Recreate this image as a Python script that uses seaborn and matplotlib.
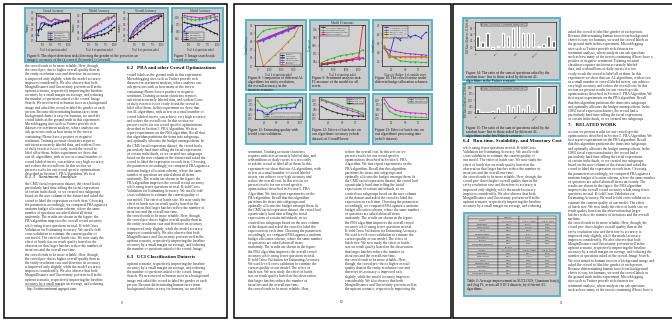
import textwrap
import numpy as np
import pandas as pd
import matplotlib
matplotlib.use("Agg")
import matplotlib.pyplot as plt
import seaborn as sns
from matplotlib.patches import Rectangle
from matplotlib.ticker import MaxNLocator

W, H = 672, 322
LINE = 4.15

# ---------------- chart data ----------------
al_names = ["Uncertainty", "MinExpError", "MarginDistance", "Random"]
al_colors = ["#3030e0", "#20c020", "#e020e0", "#202020"]
n_questions = [100, 200, 300, 400, 500, 600, 700, 800, 900, 1000]

f6a_blue = [0.60, 0.82, 0.83, 0.80, 0.78, 0.83, 0.84, 0.85, 0.86, 0.87]
f6a_green = [0.97, 0.95, 0.93, 0.88, 0.86, 0.90, 0.88, 0.86, 0.87, 0.88]
f6a_magenta = [0.95, 0.93, 0.92, 0.87, 0.85, 0.89, 0.87, 0.86, 0.87, 0.88]
f6a_black = [0.70, 0.72, 0.80, 0.78, 0.77, 0.80, 0.82, 0.84, 0.85, 0.86]

f6b_blue = [0.50, 0.52, 0.55, 0.58, 0.60, 0.63, 0.66, 0.70, 0.74, 0.80]
f6b_green = [0.55, 0.62, 0.68, 0.72, 0.76, 0.80, 0.83, 0.88, 0.86, 0.92]
f6b_magenta = [0.54, 0.60, 0.66, 0.71, 0.74, 0.78, 0.82, 0.85, 0.87, 0.90]
f6b_black = [0.50, 0.51, 0.52, 0.53, 0.55, 0.56, 0.58, 0.60, 0.65, 0.70]

f6c_blue = [0.55, 0.68, 0.76, 0.82, 0.86, 0.89, 0.92, 0.94, 0.96, 0.97]
f6c_green = [0.55, 0.64, 0.72, 0.78, 0.83, 0.87, 0.90, 0.93, 0.95, 0.97]
f6c_magenta = [0.55, 0.62, 0.70, 0.76, 0.81, 0.85, 0.89, 0.92, 0.94, 0.96]
f6c_black = [0.55, 0.58, 0.63, 0.68, 0.73, 0.78, 0.83, 0.87, 0.91, 0.95]

f7_blue = [0.62, 0.70, 0.72, 0.74, 0.75, 0.76, 0.78, 0.80, 0.84, 0.86]
f7_green = [0.92, 0.88, 0.86, 0.85, 0.86, 0.87, 0.88, 0.90, 0.91, 0.93]
f7_magenta = [0.95, 0.93, 0.92, 0.91, 0.90, 0.90, 0.92, 0.94, 0.97, 0.84]
f7_black = [0.80, 0.78, 0.76, 0.74, 0.72, 0.70, 0.66, 0.62, 0.58, 0.55]

f8_names = ["Baseline", "Uncertainty", "MinExpError", "MarginDistance", "Bootstrap-LV", "Random"]
f8_colors = ["#303030", "#3030e0", "#20c020", "#e020e0", "#8040c0", "#c08020"]
f8_x = [0, 500, 1000, 1500, 2000, 2500, 3000, 3500]
f8_black = [0.80, 0.83, 0.86, 0.89, 0.92, 0.95, 0.97, 1.00]
f8_blue = [0.80, 0.82, 0.85, 0.88, 0.91, 0.94, 0.97, 1.00]
f8_green = [0.85, 0.93, 0.95, 0.96, 0.97, 0.98, 0.99, 1.00]
f8_magenta = [0.80, 0.83, 0.86, 0.89, 0.92, 0.95, 0.98, 1.00]
f8_purple = [0.79, 0.81, 0.84, 0.87, 0.90, 0.93, 0.96, 1.00]
f8_orange = [0.80, 0.50, 0.57, 0.64, 0.71, 0.79, 0.86, 1.00]

f9_names = ["Uncertainty (Entropy)", "MinExpError (Fixed)", "MarginDistance (Crowd)", "Partitioned (PBA)"]
f9_colors = ["#303030", "#20c020", "#e020e0", "#e02020"]
f9_x = [0, 1500, 3000, 4500, 6000, 7500, 9000, 10000]
f9_black = [0.61, 0.62, 0.63, 0.64, 0.65, 0.66, 0.67, 0.68]
f9_green = [0.63, 0.66, 0.68, 0.70, 0.71, 0.72, 0.73, 0.76]
f9_magenta = [0.62, 0.63, 0.64, 0.65, 0.66, 0.66, 0.67, 0.68]
f9_red = [0.62, 0.63, 0.64, 0.65, 0.66, 0.67, 0.69, 1.00]

f10_names = ["Uniform (ε = 0.001)", "Uniform (ε = 0.01)", "PBA (ε = 0.01)", "PBA (ε = 0.1)", "Uniform (ε = 0.1)"]
f10_colors = ["#3030e0", "#8040c0", "#20c020", "#e02020", "#e08020"]
f10_x = [1, 2, 3, 4, 5, 6, 7, 8, 9]
f10_blue = [0.50, 0.32, 0.75, 0.68, 0.82, 0.74, 0.78, 0.72, 0.84]
f10_purple = [0.50, 0.45, 0.42, 0.40, 0.38, 0.37, 0.36, 0.35, 0.34]
f10_green = [0.50, 0.35, 0.28, 0.22, 0.20, 0.19, 0.19, 0.18, 0.18]
f10_red = [0.55, 0.30, 0.30, 0.30, 0.30, 0.30, 0.30, 0.30, 0.30]
f10_orange = [0.55, 0.32, 0.31, 0.31, 0.30, 0.30, 0.30, 0.30, 0.30]

f11_x = [1, 2, 3, 4, 5, 6, 7, 8, 9, 10]
f11_blue = [0.60, 0.55, 0.40, 0.55, 0.62, 0.65, 0.66, 0.66, 0.68, 0.92]
f11_green = [0.90, 0.70, 0.65, 0.68, 0.72, 0.76, 0.75, 0.80, 0.82, 0.85]

f12_x = [1, 2, 3, 4, 5, 6, 7, 8, 9]
f12_magenta = [0.90, 0.85, 0.80, 0.72, 0.65, 0.60, 0.55, 0.50, 0.42]
f12_green = [0.95, 0.88, 0.82, 0.78, 0.70, 0.66, 0.62, 0.55, 0.50]
f12_black = [0.70, 0.62, 0.55, 0.50, 0.46, 0.43, 0.41, 0.40, 0.39]

f13_x = [1, 2, 3, 4, 5, 6, 7, 8, 9]
f13_magenta = [0.95, 0.70, 0.60, 0.55, 0.52, 0.50, 0.49, 0.48, 0.47]
f13_green = [0.80, 0.55, 0.45, 0.40, 0.38, 0.37, 0.36, 0.35, 0.35]

uci_sets = ["iris", "ionosphere", "vehicle", "wine", "glass", "breast", "heart", "diabetes",
            "sonar", "yeast", "ecoli", "letter", "segment", "vowel", "zoo", "car"]
f14_ratio = [0.35, 0.15, 0.45, -0.05, 0.05, 0.45, 0.35, 0.60, 0.75, 0.45, 0.45, 0.45, 0.02, 0.10, 0.35, 0.20]
f15_ratio = [0.15, 0.05, 0.05, 0.08, 0.20, 0.05, 0.30, 0.25, 0.30, 0.15, 0.30, 0.10, 1.00, 0.05, 0.25, 0.30]

table_methods = ["Uncertainty", "MinExpError", "CVLS", "MarginDistance", "Bootstrap-LV",
                 "Entropy", "Uncertainty (Entropy)"]
table_uniform = [["0.823", "61.345", "0.166"], ["0.868", "104.333", "0.190"], ["0.847", "0.330", "0.168"],
                 ["0.862", "12.471", "0.184"], ["0.845", "98.223", "0.175"], ["0.809", "0.156", "0.161"],
                 ["0.817", "0.182", "0.163"]]
table_skewed = [["0.812", "0.201", "0.150"], ["0.851", "15.248", "0.172"], ["0.840", "0.386", "0.165"],
                ["0.858", "2.479", "0.181"], ["0.832", "18.328", "0.169"], ["0.801", "0.184", "0.155"],
                ["0.806", "0.190", "0.158"]]

BODY = (
    "the crowd tends to be more reliable. Here, though, the crowd pro- duces higher overall quality "
    "than in the entity resolution case and therefore its accuracy is improved only slightly, while the "
    "model accuracy improves considerably. We also observe that both MarginDistance and Uncertainty "
    "perform well in the upfront scenario, respectively improving the baseline accuracy by a small "
    "margin on average, and reducing the number of questions asked of the crowd. Image Search. We next "
    "turned to human faces in a background image and asked the crowd to label the gender of each person. "
    "Because differentiating human faces from background clutter is easy for humans, we used the crowd "
    "labels as the ground truth in this experiment. Microblogging sites such as Twitter provide rich "
    "datasets for sentiment analysis, where analysts can ask questions such as how many of the tweets "
    "containing iPhone have a positive or negative sentiment. Training accurate classifiers requires "
    "sufficient accurately labeled data, and with millions of daily tweets it is too costly to ask the "
    "crowd to label all of them. In this experiment we show that our AL algorithms, with as few as a "
    "small number of crowd labeled tweets, can achieve very high accuracy and reduce the overall cost. "
    "In this section we present results for our crowd specific optimizations described in Section 5. "
    "PBA Algorithm. We first report experiments on the PBA algorithm. Recall that this algorithm "
    "partitions the items into subgroups and optimally allocates the budget amongst them. In the CMU "
    "facial expression dataset, the crowd had a particularly hard time telling the facial expressions "
    "of certain individuals, so we created two subgroups based on the user column of the dataset and "
    "asked the crowd to label the expression on each item. Choosing the parameters accordingly, we "
    "compared PBA against a uniform budget allocation scheme, where the same number of questions are "
    "asked about all items uniformly. The results are shown in the figure: the PBA algorithm improves "
    "the overall crowd accuracy while using fewer questions in total. K-fold Cross Validation for "
    "Estimating Accuracy. We used k-fold cross validation to estimate the current quality of our model. "
    "The effect of batch size. We now study the effect of batch size on result quality based on the "
    "observation that larger batches reduce the number of iterations and the overall run-time. "
)


def wrapped(chars):
    return textwrap.wrap(BODY, chars)


sns.set_theme(style="ticks")
plt.rcParams["font.family"] = ["Liberation Serif", "DejaVu Serif"]
plt.rcParams["axes.linewidth"] = 0.4

fig = plt.figure(figsize=(6.72, 3.22), dpi=100)
bg = fig.add_axes([0, 0, 1, 1])
bg.set_xlim(0, W)
bg.set_ylim(H, 0)
bg.axis("off")


def box(x0, y0, x1, y1):
    return fig.add_axes([x0 / W, 1 - y1 / H, (x1 - x0) / W, (y1 - y0) / H])


def page(x0, y0, x1, y1):
    bg.add_patch(Rectangle((x0, y0), x1 - x0, y1 - y0, facecolor="white", edgecolor="black", lw=1.1))


def panel(x0, y0, x1, y1):
    bg.add_patch(Rectangle((x0, y0), x1 - x0, y1 - y0, facecolor="#cbcbcb", edgecolor="#58b6cc", lw=1.4))


def text_lines(x, y0, y1, chars, start=0):
    lines = wrapped(chars)
    n = int((y1 - y0) / LINE) + 1
    for i in range(n):
        bg.text(x, y0 + i * LINE, lines[(start + i) % len(lines)], fontsize=2.6,
                va="top", ha="left", color="#2a2a2a")


def heading(x, y, s, italic=False):
    bg.text(x, y, s, fontsize=3.6, fontweight="normal" if italic else "bold",
            style="italic" if italic else "normal", va="top", ha="left", color="#111111")


def caption(x, y, s, chars):
    for i, ln in enumerate(textwrap.wrap(s, chars)):
        bg.text(x, y + i * LINE, ln, fontsize=2.6, va="top", ha="left", color="#111111")


def style(ax, title="", xlabel="", ylabel=""):
    ax.set_facecolor("#d2d2d2")
    for sp in ax.spines.values():
        sp.set_linewidth(0.4)
        sp.set_color("black")
    ax.tick_params(labelsize=1.8, length=1, width=0.3, pad=0.5)
    ax.xaxis.set_major_locator(MaxNLocator(4))
    ax.yaxis.set_major_locator(MaxNLocator(5))
    ax.set_title(title, fontsize=2.2, pad=1)
    ax.set_xlabel(xlabel, fontsize=1.8, labelpad=0.5)
    ax.set_ylabel(ylabel, fontsize=1.8, labelpad=0.5)


def line_chart(rect, x, names, arrays, colors, title="", xlabel="", ylabel="", legend=None, ylim=None):
    ax = box(*rect)
    df = pd.DataFrame({
        "x": np.tile(x, len(arrays)),
        "y": np.concatenate(arrays),
        "method": np.repeat(names, len(x)),
    })
    sns.lineplot(data=df, x="x", y="y", hue="method", hue_order=names, palette=colors,
                 marker="o", markersize=1.2, markeredgewidth=0, linewidth=0.6, ax=ax,
                 legend=legend is not None)
    style(ax, title, xlabel, ylabel)
    if ylim:
        ax.set_ylim(*ylim)
    if legend:
        lg = ax.legend(loc=legend, fontsize=1.5, frameon=True, handlelength=2, borderpad=0.3,
                       labelspacing=0.15, fancybox=False)
        lg.get_frame().set_linewidth(0.3)
        lg.get_frame().set_edgecolor("black")
        lg.get_frame().set_facecolor("#d2d2d2")
    return ax


def bar_chart(rect, values):
    ax = box(*rect)
    sns.barplot(x=uci_sets, y=values, color="#4a4a4a", width=0.5, ax=ax)
    style(ax, ylabel="RSS Ratio (Random / AL Method)")
    ax.yaxis.set_major_locator(MaxNLocator(5))
    ax.tick_params(axis="x", labelsize=1.6, rotation=45)
    for t in ax.get_xticklabels():
        t.set_ha("right")
    ax.text(0.08, 0.93, "Entropy  Uncertainty  Partitioning  MinExpError", transform=ax.transAxes,
            fontsize=1.6, va="top", bbox=dict(facecolor="#d2d2d2", edgecolor="black", lw=0.3, pad=0.6))
    return ax


# ---------------- pages ----------------
page(4, 4, 227, 318)
page(234, 4, 451, 318)
page(453, 4, 680, 318)

# ---------------- page 9 ----------------
panel(25, 8, 168, 62)
panel(172, 8, 223, 62)
line_chart((36, 13, 70, 41), n_questions, al_names, [f6a_blue, f6a_green, f6a_magenta, f6a_black],
           al_colors, "Crowd Accuracy", "Total # of questions asked", "Accuracy", legend="lower right",
           ylim=(0.5, 1.0))
line_chart((82, 13, 116, 41), n_questions, al_names, [f6b_blue, f6b_green, f6b_magenta, f6b_black],
           al_colors, "Model Accuracy", "Total # of questions asked", "Accuracy", ylim=(0.45, 0.95))
line_chart((128, 13, 163, 41), n_questions, al_names, [f6c_blue, f6c_green, f6c_magenta, f6c_black],
           al_colors, "Overall Accuracy", "Total # of questions asked", "Accuracy", ylim=(0.5, 1.0))
line_chart((182, 13, 219, 41), n_questions, al_names, [f7_blue, f7_green, f7_magenta, f7_black],
           al_colors, "Model Accuracy", "Total # of questions asked", "Accuracy", legend="lower left",
           ylim=(0.4, 1.0))
caption(27, 53.5, "Figure 6: The object detection task (detecting the gender of the person in an image): "
        "accuracy of the (a) crowd, (b) model, (c) overall.", 80)
caption(174, 53.5, "Figure 7: Image search task: crowd accuracy.", 28)

text_lines(25, 64, 172, 53, 0)
heading(25, 175, "6.1.3   Sentiment Analysis", italic=True)
text_lines(25, 182, 282, 53, 30)
bg.plot([25, 60], [286, 286], color="#333333", lw=0.3)
bg.text(27, 287, "http://twittersentiment.appspot.com", fontsize=2.5, va="top", color="#222222")

heading(127, 66, "6.2   PBA and other Crowd Optimizations")
text_lines(127, 73, 250, 53, 60)
heading(127, 255, "6.3   UCI Classification Datasets")
text_lines(127, 262, 288, 53, 100)
bg.text(122, 301, "9", fontsize=2.6, ha="center", va="top")

# ---------------- page 10 ----------------
for x0, x1 in [(246, 306), (310, 369), (373, 432)]:
    panel(x0, 20, x1, 90)
    panel(x0, 94, x1, 144)

line_chart((255, 25, 302, 66), f8_x, f8_names,
           [f8_black, f8_blue, f8_green, f8_magenta, f8_purple, f8_orange], f8_colors,
           "", "Total # of questions asked", "Overall Accuracy", legend="lower right", ylim=(0.5, 1.0))
line_chart((319, 25, 365, 66), f9_x, f9_names, [f9_black, f9_green, f9_magenta, f9_red], f9_colors,
           "Model F1 measure", "Total # of questions asked", "F1 measure", legend="upper left",
           ylim=(0.6, 1.0))
line_chart((382, 25, 428, 66), f10_x, f10_names,
           [f10_blue, f10_purple, f10_green, f10_red, f10_orange], f10_colors,
           "", "Value of ε (Budget / # of candidate items)", "Overall error", legend="upper left",
           ylim=(0.1, 1.0))
caption(248, 76, "Figure 8: Comparison of different AL algorithms for entity resolution, the overall "
        "accuracy in the iterative scenario.", 36)
caption(312, 76, "Figure 9: Sentiment analysis task. F1 measure of the model for all tweets.", 36)
caption(375, 76, "Figure 10: The crowd's noise under different budget allocation schemes.", 36)

line_chart((255, 97, 302, 119), f11_x, ["PBA", "Uniform (k-fold cross validation)"],
           [f11_blue, f11_green], ["#3030e0", "#20c020"], legend="lower right", ylim=(0.3, 1.0))
line_chart((319, 97, 365, 119), f12_x, ["Batch 10", "Batch 100", "Batch 1000"],
           [f12_magenta, f12_green, f12_black], ["#e020e0", "#20c020", "#303030"],
           legend="upper right", ylim=(0.3, 1.0))
line_chart((382, 97, 428, 119), f13_x, ["Uncertainty", "MinExpError"],
           [f13_magenta, f13_green], ["#e020e0", "#20c020"], legend="upper right", ylim=(0.3, 1.0))
caption(248, 128, "Figure 11: Estimating quality with k-fold cross validation.", 36)
caption(312, 128, "Figure 12: Effect of batch size on our algorithms' accuracy (whole dataset) of CrowdFlower.", 36)
caption(375, 128, "Figure 13: Effect of batch size on our algorithms' processing time (whole dataset).", 36)

text_lines(248, 150, 288, 48, 20)
text_lines(345, 150, 288, 48, 80)
bg.text(341, 300, "10", fontsize=2.6, ha="center", va="top")

# ---------------- page 11 ----------------
panel(463, 18, 560, 80)
panel(463, 83, 560, 136)
bar_chart((475, 22, 556, 50), f14_ratio)
bar_chart((475, 86, 556, 113), f15_ratio)
caption(466, 71, "Figure 14: The ratio of the sum of questions asked by the random base- "
        "line to those asked by different AL algorithms in the Twitter scenario.", 58)
caption(466, 126, "Figure 15: The ratio of the sum of questions asked by the random base- "
        "line to those asked by different AL algorithms in the Iris/Vehicle scenario.", 58)
heading(463, 139, "6.4   Run-time, Scalability, and Monetary Cost")
text_lines(463, 146, 208, 54, 40)

panel(464, 213, 560, 296)
tab_ax = box(468, 216, 556, 275)
tab_ax.axis("off")
header = ["Method", "AUCLOGS (%)", "Avg F1 (train)", "Avg F1 (test)"]
rows = [["", "Uniform", "", ""], header]
rows += [[m] + v for m, v in zip(table_methods, table_uniform)]
rows += [["", "Skewed", "", ""], header]
rows += [[m] + v for m, v in zip(table_methods, table_skewed)]
tab = tab_ax.table(cellText=rows, loc="center", cellLoc="center", bbox=[0, 0, 1, 1],
                   colWidths=[0.34, 0.24, 0.22, 0.2])
tab.auto_set_font_size(False)
for (r, c), cell in tab.get_celld().items():
    cell.set_fontsize(1.7)
    cell.set_linewidth(0.25)
    cell.set_facecolor("#d8d8d8")
caption(467, 279, "Table 2: Average improvement in AUCLOGS, Quantum loss(s), and Avg F1, across "
        "all 9 UCI datasets, by different AL algorithms.", 58)
bg.text(561, 301, "11", fontsize=2.6, ha="center", va="top")

text_lines(568, 30, 118, 55, 10)
heading(568, 123, "7.   RELATED WORK")
text_lines(568, 130, 290, 55, 70)

fig.savefig("out.png", dpi=100)
